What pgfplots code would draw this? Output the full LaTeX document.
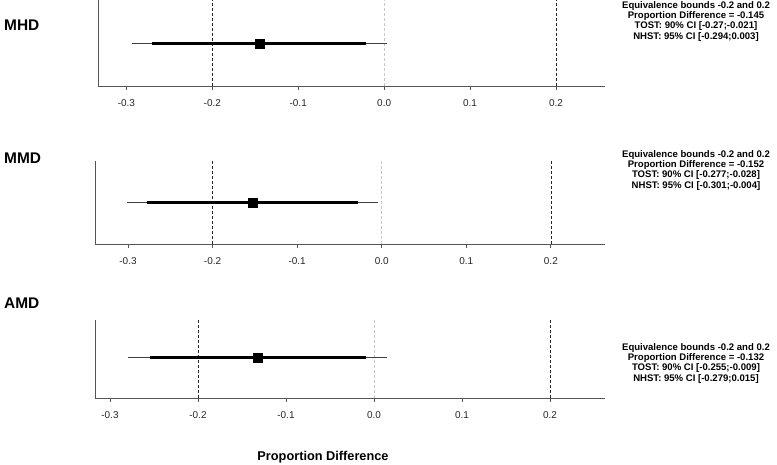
\documentclass[border=0pt]{standalone}
\usepackage{pgfplots}
\pgfplotsset{compat=1.18}
\usepackage{fontspec}
\setmainfont{Liberation Sans}
\definecolor{axgray}{HTML}{555555}
\definecolor{zerogray}{HTML}{C8C8C8}
\begin{document}
\begin{tikzpicture}
\path[use as bounding box] (0bp,0bp) rectangle (777bp,465bp);
\pgfplotsset{
  tostpanel/.style={
    scale only axis, clip=false,
    ymin=0, ymax=1,
    axis x line*=bottom, axis y line*=left,
    axis line style={axgray, line width=0.8pt},
    ytick=\empty,
    xtick={-0.3,-0.2,-0.1,0,0.1,0.2},
    xticklabels={-0.3,-0.2,-0.1,0.0,0.1,0.2},
    xtick align=outside,
    major tick length=4bp,
    tick style={axgray, line width=0.8pt},
    xticklabel style={font=\fontsize{10}{11}\selectfont, text=black!85, yshift=-6bp},
  },
  bound/.style={black!85, line width=0.6pt, dash pattern=on 3bp off 2bp},
  zero/.style={zerogray, line width=0.6pt, dash pattern=on 3bp off 2bp},
  ci95/.style={black!75, line width=0.8pt},
  ci90/.style={black, line width=2.8pt},
  pt/.style={only marks, mark=square*, mark size=4.5bp, black},
}
% Panel 1: MHD
\begin{axis}[tostpanel, at={(98bp,379bp)}, anchor=south west,
  width=507bp, height=86bp, xmin=-0.333, xmax=0.257]
\addplot[bound] coordinates {(-0.2,0) (-0.2,1)};
\addplot[bound] coordinates {(0.2,0) (0.2,1)};
\addplot[zero] coordinates {(0,0) (0,1)};
\addplot[ci95] coordinates {(-0.294,0.49) (0.003,0.49)};
\addplot[ci90] coordinates {(-0.27,0.49) (-0.021,0.49)};
\addplot[pt] coordinates {(-0.145,0.49)};
\end{axis}
% Panel 2: MMD
\begin{axis}[tostpanel, at={(95bp,221bp)}, anchor=south west,
  width=510bp, height=83bp, xmin=-0.339, xmax=0.264]
\addplot[bound] coordinates {(-0.2,0) (-0.2,1)};
\addplot[bound] coordinates {(0.2,0) (0.2,1)};
\addplot[zero] coordinates {(0,0) (0,1)};
\addplot[ci95] coordinates {(-0.301,0.5) (-0.004,0.5)};
\addplot[ci90] coordinates {(-0.277,0.5) (-0.028,0.5)};
\addplot[pt] coordinates {(-0.152,0.5)};
\end{axis}
% Panel 3: AMD
\begin{axis}[tostpanel, at={(95bp,67bp)}, anchor=south west,
  width=510bp, height=78bp, xmin=-0.317, xmax=0.2625]
\addplot[bound] coordinates {(-0.2,0) (-0.2,1)};
\addplot[bound] coordinates {(0.2,0) (0.2,1)};
\addplot[zero] coordinates {(0,0) (0,1)};
\addplot[ci95] coordinates {(-0.279,0.52) (0.015,0.52)};
\addplot[ci90] coordinates {(-0.255,0.52) (-0.009,0.52)};
\addplot[pt] coordinates {(-0.132,0.52)};
\end{axis}
% Panel labels
\node[font=\bfseries\fontsize{15.5}{18}\selectfont, anchor=west, inner sep=0pt] at (4bp,440bp) {MHD};
\node[font=\bfseries\fontsize{15.5}{18}\selectfont, anchor=west, inner sep=0pt] at (4bp,307bp) {MMD};
\node[font=\bfseries\fontsize{15.5}{18}\selectfont, anchor=west, inner sep=0pt] at (4bp,162bp) {AMD};
\node[font=\bfseries\fontsize{12.8}{15}\selectfont, inner sep=0pt] at (323bp,8bp) {Proportion Difference};
% Right-hand text
\node[font=\bfseries\fontsize{9.6}{10.4}\selectfont, align=center, anchor=north, inner sep=0pt] at (696bp,464bp)
  {Equivalence bounds -0.2 and 0.2\\Proportion Difference = -0.145\\TOST: 90\% CI [-0.27;-0.021]\\NHST: 95\% CI [-0.294;0.003]};
\node[font=\bfseries\fontsize{9.6}{10.4}\selectfont, align=center, anchor=north, inner sep=0pt] at (696bp,315bp)
  {Equivalence bounds -0.2 and 0.2\\Proportion Difference = -0.152\\TOST: 90\% CI [-0.277;-0.028]\\NHST: 95\% CI [-0.301;-0.004]};
\node[font=\bfseries\fontsize{9.6}{10.4}\selectfont, align=center, anchor=north, inner sep=0pt] at (696bp,122bp)
  {Equivalence bounds -0.2 and 0.2\\Proportion Difference = -0.132\\TOST: 90\% CI [-0.255;-0.009]\\NHST: 95\% CI [-0.279;0.015]};
\end{tikzpicture}
\end{document}
